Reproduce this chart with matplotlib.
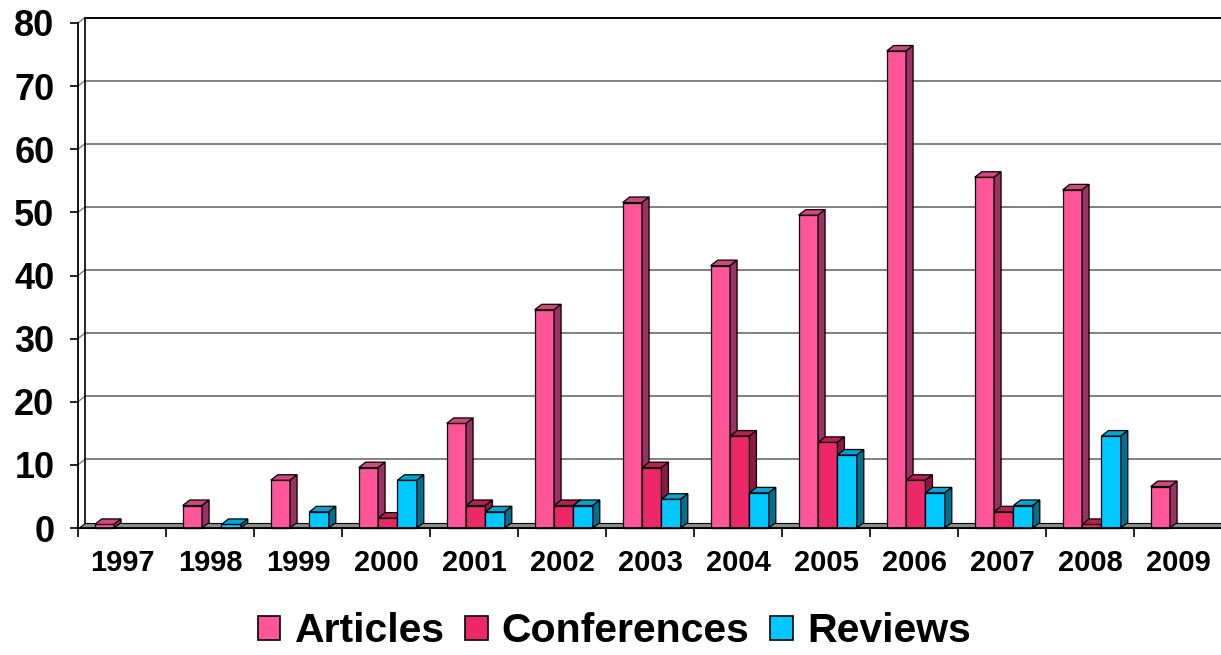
import matplotlib
matplotlib.use("Agg")
import matplotlib.pyplot as plt
from matplotlib.patches import Polygon, Rectangle, Patch

# donnees
annees = ["1997", "1998", "1999", "2000", "2001", "2002", "2003",
          "2004", "2005", "2006", "2007", "2008", "2009"]
articles = [1, 4, 8, 10, 17, 35, 52, 42, 50, 76, 56, 54, 7]
conferences = [0, 0, 0, 2, 4, 4, 10, 15, 14, 8, 3, 1, 0]
reviews = [0, 1, 3, 8, 3, 4, 5, 6, 12, 6, 4, 15, 0]
series = [("Articles", articles), ("Conferences", conferences), ("Reviews", reviews)]

# couleurs face avant / dessus / cote
couleurs = {
    "Articles": ("#FF5599", "#D4467F", "#993366"),
    "Conferences": ("#EC2869", "#B82050", "#8A1A44"),
    "Reviews": ("#00C8FF", "#00A6D6", "#006F8E"),
}

plt.rcParams['font.family'] = ['Liberation Sans', 'DejaVu Sans']

fig = plt.figure(figsize=(12.21, 6.55), dpi=100)
ax = fig.add_axes([78 / 1221, 127 / 655, 1144 / 1221, 505 / 655])
ax.set_xlim(-0.5, 12.5)
ax.set_ylim(0, 80)

# profondeur du pseudo 3D, en unites de donnees
ddx = 7 / 88
ddy = 5.5 / (505 / 80)

# mur du fond et grille
for v in range(10, 81, 10):
    col = "black" if v == 80 else "#808080"
    ax.plot([-0.5 + ddx, 12.6], [v + ddy, v + ddy], color=col, lw=1.4,
            clip_on=False, zorder=1)
    ax.plot([-0.5, -0.5 + ddx], [v, v + ddy], color="#808080", lw=1.0,
            clip_on=False, zorder=1)
ax.plot([-0.5 + ddx, -0.5 + ddx], [ddy, 80 + ddy], color="black", lw=1.2,
        clip_on=False, zorder=1)

# sol
sol = Polygon([(-0.5, 0), (12.6, 0), (12.6, ddy), (-0.5 + ddx, ddy)],
              closed=True, facecolor="#8C8C8C", edgecolor="black", lw=0.8,
              clip_on=False, zorder=2)
ax.add_patch(sol)

largeur = 0.22
decalages = [-0.2, 0.02, 0.24]
z = 3
for i in range(len(annees)):
    for (nom, vals), dec in zip(series, decalages):
        v = vals[i]
        if v <= 0:
            continue
        avant, dessus, cote = couleurs[nom]
        x0 = i + dec - largeur / 2
        x1 = x0 + largeur
        h = v - ddy / 2
        ax.add_patch(Rectangle((x0, 0), largeur, h, facecolor=avant,
                               edgecolor="black", lw=0.9, zorder=z, clip_on=False))
        ax.add_patch(Polygon([(x0, h), (x1, h), (x1 + ddx, h + ddy), (x0 + ddx, h + ddy)],
                             closed=True, facecolor=dessus, edgecolor="black",
                             lw=0.9, zorder=z, clip_on=False))
        ax.add_patch(Polygon([(x1, 0), (x1 + ddx, ddy), (x1 + ddx, h + ddy), (x1, h)],
                             closed=True, facecolor=cote, edgecolor="black",
                             lw=0.9, zorder=z, clip_on=False))
        z += 1

# axes
for s in ["top", "right"]:
    ax.spines[s].set_visible(False)
ax.spines["left"].set_linewidth(1.3)
ax.spines["bottom"].set_linewidth(1.3)
ax.spines["left"].set_zorder(1)
ax.spines["bottom"].set_zorder(100)

ax.set_yticks(range(0, 81, 10))
ax.tick_params(axis="y", length=6, width=1.2, pad=11, labelsize=26)
for t in ax.get_yticklabels():
    t.set_fontweight("bold")

ax.set_xticks([k - 0.5 for k in range(len(annees) + 1)])
ax.set_xticklabels([])
ax.set_xticks(range(len(annees)), minor=True)
ax.set_xticklabels(annees, minor=True, fontsize=21, fontweight="bold")
ax.tick_params(axis="x", which="major", length=6.5, width=1.2, direction="out")
ax.tick_params(axis="x", which="minor", length=0, pad=15)

poignees = [Patch(facecolor=couleurs[n][0], edgecolor="black", lw=1.2) for n, _ in series]
leg = fig.legend(poignees, [n for n, _ in series], loc="center",
                 bbox_to_anchor=(0.503, 0.036), ncol=3, frameon=False,
                 prop={"size": 29.5, "weight": "bold"}, handlelength=0.55,
                 handleheight=0.55, handletextpad=0.35, columnspacing=0.5,
                 borderpad=0.2)

fig.savefig("out.png", dpi=100)
